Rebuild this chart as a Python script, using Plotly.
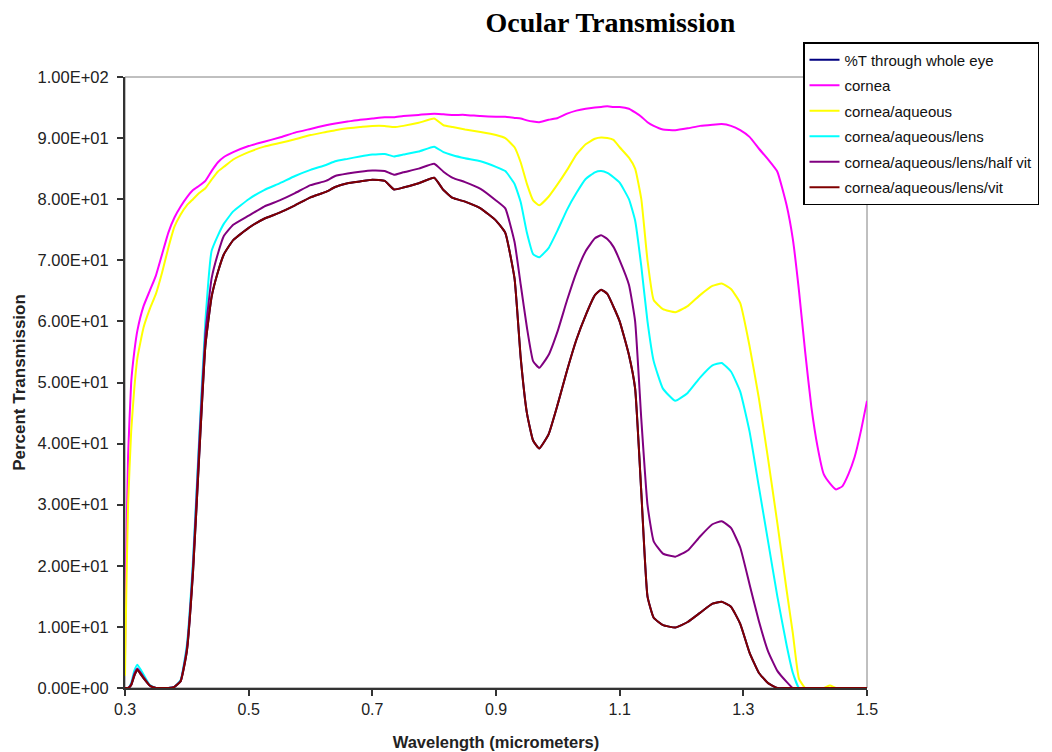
import plotly.graph_objects as go

wavelength = [0.300, 0.302, 0.305, 0.310, 0.315, 0.320, 0.330, 0.340, 0.350, 0.360, 0.370, 0.380,
              0.390, 0.400, 0.410, 0.420, 0.430, 0.440, 0.450, 0.460, 0.475, 0.500, 0.525, 0.550,
              0.575, 0.600, 0.625, 0.640, 0.660, 0.680, 0.700, 0.720, 0.735, 0.750, 0.775, 0.800,
              0.815, 0.830, 0.850, 0.875, 0.900, 0.915, 0.930, 0.940, 0.950, 0.960, 0.970, 0.985,
              1.000, 1.015, 1.030, 1.045, 1.060, 1.070, 1.080, 1.090, 1.100, 1.115, 1.125, 1.135,
              1.145, 1.155, 1.170, 1.190, 1.210, 1.230, 1.250, 1.265, 1.280, 1.295, 1.310, 1.325,
              1.340, 1.355, 1.370, 1.380, 1.390, 1.400, 1.410, 1.420, 1.430, 1.440, 1.450, 1.460,
              1.470, 1.480, 1.490, 1.500]

cornea = [5, 22, 38, 50, 55, 58.5, 62.5, 65, 67.5, 71, 74.5, 77,
          78.8, 80.3, 81.5, 82.2, 83, 84.6, 86, 86.9, 87.7, 88.7, 89.4, 90.1,
          90.9, 91.5, 92.1, 92.4, 92.7, 93.0, 93.2, 93.4, 93.4, 93.6, 93.8, 94.0,
          93.9, 93.8, 93.8, 93.6, 93.5, 93.5, 93.3, 93.2, 92.9, 92.7, 92.6, 93.0,
          93.3, 94.0, 94.5, 94.8, 95.0, 95.1, 95.2, 95.1, 95.1, 94.8, 94.2, 93.5,
          92.6, 92.0, 91.4, 91.3, 91.6, 92.0, 92.2, 92.3, 92.0, 91.3, 90.2, 88.3,
          86.5, 84.5, 79, 73.5, 65, 55, 46, 39.5, 35, 33.5, 32.5, 33,
          35, 37.8, 42, 47]

cornea_aqueous = [2, 15, 30, 42, 49, 54, 59, 62, 64.5, 68, 72, 75.5,
                  77.5, 79, 80, 81, 81.8, 83.2, 84.5, 85.3, 86.5, 87.7, 88.6, 89.2,
                  89.8, 90.5, 91.0, 91.3, 91.6, 91.8, 92.0, 92.0, 91.8, 92.0, 92.5, 93.2,
                  92.1, 91.8, 91.4, 91.0, 90.5, 90.0, 88.5, 86, 82.5, 79.8, 79, 80.4,
                  82.5, 84.8, 87.3, 89, 89.9, 90.1, 90.0, 89.7, 88.5, 86.8, 85, 80,
                  70, 63.5, 62, 61.5, 62.5, 64.3, 65.8, 66.2, 65.3, 63, 56, 47.5,
                  37.5, 27, 16, 9, 1.5, 0, 0, 0, 0, 0.4, 0, 0,
                  0, 0, 0, 0]

cornea_aqueous_lens = [0, 0, 0, 0.8, 2.8, 3.8, 2.2, 0.5, 0, 0, 0, 0.2,
                       1.3, 7, 21, 41, 60, 71.5, 74, 76, 78, 80, 81.5, 82.6,
                       83.8, 84.8, 85.6, 86.2, 86.6, 87, 87.3, 87.4, 87, 87.3, 87.8, 88.6,
                       87.7, 87.2, 86.7, 86.2, 85.3, 84.6, 82.5, 79.5, 74.5, 71, 70.5, 72,
                       75, 78.3, 81, 83.3, 84.4, 84.6, 84.3, 83.6, 82.7, 80, 76.5, 69,
                       60, 53.5, 49, 47, 48.3, 50.8, 52.8, 53.2, 51.8, 48.5, 42, 33,
                       24, 15, 7, 2.5, 0, 0, 0, 0, 0, 0, 0, 0,
                       0, 0, 0, 0]

cornea_aqueous_lens_halfvit = [0, 0, 0, 0.6, 2.3, 3.2, 1.8, 0.4, 0, 0, 0, 0.2,
                               1.2, 6.5, 20, 40, 58, 67, 71, 74, 75.8, 77.3, 78.8, 79.8,
                               81, 82.3, 83, 83.8, 84.2, 84.5, 84.7, 84.6, 84, 84.4, 85, 85.8,
                               84.5, 83.5, 82.8, 81.7, 79.8, 78.5, 73, 66, 59, 53.5, 52.4, 54.5,
                               58.5, 63.5, 68, 71.5, 73.6, 74.1, 73.5, 72.2, 70, 66, 60, 44,
                               30, 24, 22, 21.5, 22.5, 24.8, 26.8, 27.3, 26.2, 23, 17, 11,
                               6, 2.8, 1, 0, 0, 0, 0, 0, 0, 0, 0, 0,
                               0, 0, 0, 0]

cornea_aqueous_lens_vit = [0, 0, 0, 0.5, 2, 3, 1.6, 0.4, 0, 0, 0, 0.2,
                           1.1, 6, 19, 38, 56, 64, 68, 71, 73.3, 75.3, 76.8, 77.8,
                           79, 80.3, 81.2, 82, 82.6, 82.9, 83.2, 83, 81.6, 81.9, 82.6, 83.5,
                           81.5, 80.2, 79.6, 78.5, 76.5, 74.5, 67, 54, 45, 40.5, 39.2, 41.5,
                           46.5, 52, 57, 61, 64.3, 65.2, 64.5, 62.4, 60, 54.5, 49, 32,
                           15, 11.5, 10.3, 9.9, 10.8, 12.3, 13.8, 14.1, 13.3, 10.5, 5.8, 2.5,
                           0.8, 0, 0, 0, 0, 0, 0, 0, 0, 0, 0, 0,
                           0, 0, 0, 0]

whole_eye = list(cornea_aqueous_lens_vit)

series_names = ["%T through whole eye", "cornea", "cornea/aqueous", "cornea/aqueous/lens",
                "cornea/aqueous/lens/half vit", "cornea/aqueous/lens/vit"]
series_values = [whole_eye, cornea, cornea_aqueous, cornea_aqueous_lens,
                 cornea_aqueous_lens_halfvit, cornea_aqueous_lens_vit]
series_colors = ["#000080", "#FF00FF", "#FFFF00", "#00FFFF", "#800080", "#800000"]

x_ticks = [0.3, 0.5, 0.7, 0.9, 1.1, 1.3, 1.5]
x_ticktext = ["0.3", "0.5", "0.7", "0.9", "1.1", "1.3", "1.5"]
y_ticks = [0, 10, 20, 30, 40, 50, 60, 70, 80, 90, 100]
y_ticktext = ["0.00E+00", "1.00E+01", "2.00E+01", "3.00E+01", "4.00E+01", "5.00E+01",
              "6.00E+01", "7.00E+01", "8.00E+01", "9.00E+01", "1.00E+02"]

fig = go.Figure()
for i, (name, vals, col) in enumerate(zip(series_names, series_values, series_colors)):
    fig.add_trace(go.Scatter(
        x=wavelength, y=vals, name=name, mode="lines",
        line=dict(color=col, width=2, shape="spline", smoothing=0.4),
        legendgroup=f"g{i}",
    ))

fig.update_layout(
    width=1044, height=744,
    margin=dict(l=117, r=185, t=69, b=64, autoexpand=False),
    paper_bgcolor="white", plot_bgcolor="white",
    font=dict(family="Liberation Sans, Arial, sans-serif", color="#222222"),
    title=dict(text="<b>Ocular Transmission</b>", xref="container", x=0.577, xanchor="center",
               yref="container", y=1 - 14 / 744, yanchor="middle", pad=dict(t=0, b=0),
               font=dict(family="Liberation Serif, Times New Roman, serif", size=28, color="#000000")),
    xaxis=dict(range=[0.3, 1.5], tickvals=x_ticks, ticktext=x_ticktext, automargin=False,
               showgrid=False, zeroline=False, showline=True, linecolor="#333333", linewidth=2,
               ticks="outside", ticklen=6, tickcolor="#333333", tickwidth=1.5,
               tickfont=dict(size=16),
               title=dict(text="<b>Wavelength (micrometers)</b>", font=dict(size=16.5), standoff=19)),
    yaxis=dict(range=[0, 100], tickvals=y_ticks, ticktext=y_ticktext, automargin=False,
               showgrid=False, zeroline=False, showline=True, linecolor="#333333", linewidth=2,
               ticks="outside", ticklen=6, tickcolor="#333333", tickwidth=1.5,
               tickfont=dict(size=16.5), ticklabelstandoff=5,
               title=dict(text="<b>Percent Transmission</b>", font=dict(size=17), standoff=8)),
    legend=dict(x=(803 - 125) / 742, xanchor="left", y=(688 - 42) / 611, yanchor="top",
                bgcolor="white", bordercolor="#000000", borderwidth=1.5,
                font=dict(size=15, color="#111111"), tracegroupgap=3,
                traceorder="grouped", itemwidth=30),
    showlegend=True,
)
fig.add_shape(type="rect", xref="paper", yref="paper", x0=0, y0=0, x1=1, y1=1,
              line=dict(color="#808080", width=1), layer="below")

fig.write_html("out.html")
